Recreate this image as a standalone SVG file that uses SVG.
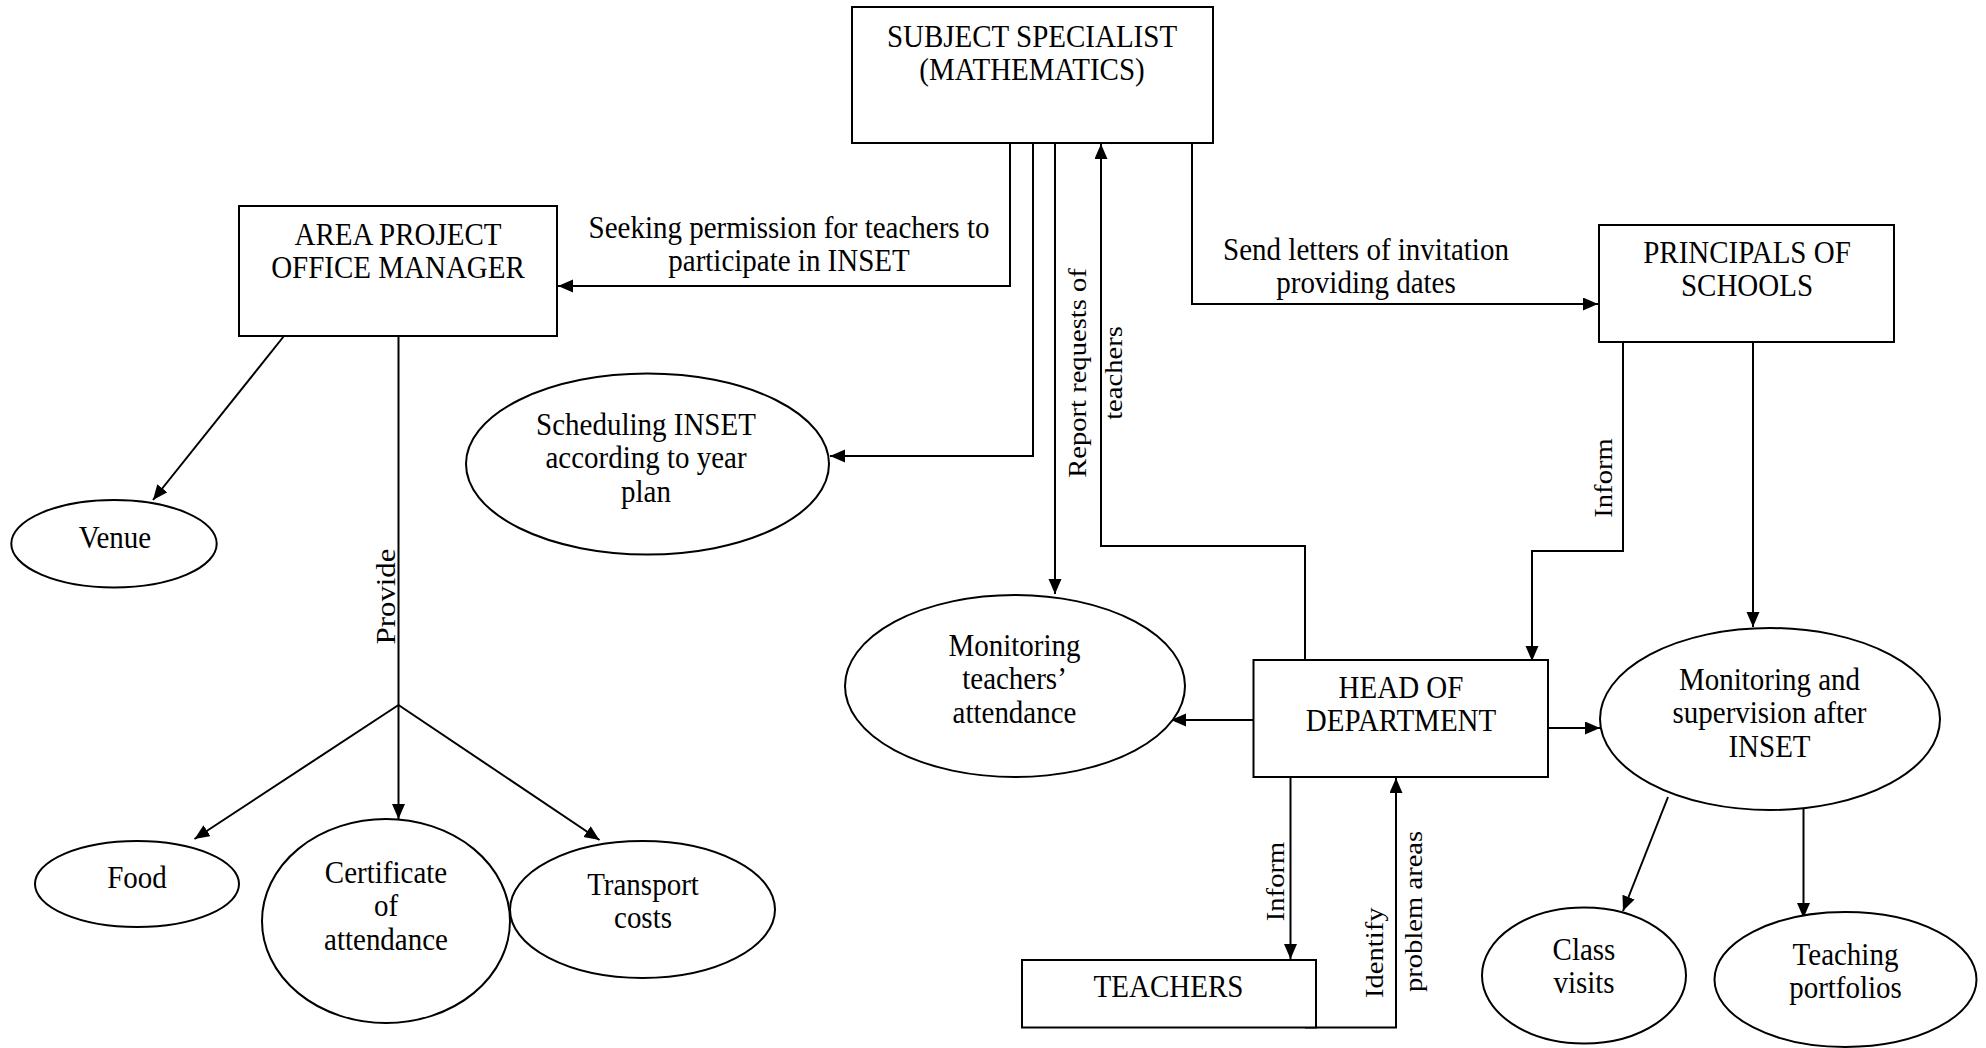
<svg xmlns="http://www.w3.org/2000/svg" width="1986" height="1048" viewBox="0 0 1986 1048">
<defs>
<style>
.box{fill:#fff;stroke:#000;stroke-width:2}
.ell{fill:#fff;stroke:#000;stroke-width:2}
.con{fill:none;stroke:#000;stroke-width:2}
.t{font-family:"Liberation Serif","Times New Roman",serif;font-size:29px;fill:#000;text-anchor:middle}
.r{font-family:"Liberation Serif","Times New Roman",serif;font-size:26px;fill:#000;text-anchor:middle}
.rs{font-family:"Liberation Serif","Times New Roman",serif;font-size:26px;fill:#000;text-anchor:start}
</style>
<marker id="arr" markerUnits="userSpaceOnUse" markerWidth="16" markerHeight="14" refX="15" refY="6.5" orient="auto">
<path d="M0,0 L15,6.5 L0,13 z" fill="#000"/>
</marker>
</defs>
<rect width="1986" height="1048" fill="#fff"/>

<g id="connectors">
<path class="con" d="M1010,143 V286 H558" marker-end="url(#arr)"/>
<path class="con" d="M1033,143 V456 H830" marker-end="url(#arr)"/>
<path class="con" d="M1055,143 V594" marker-end="url(#arr)"/>
<path class="con" d="M1305,660 V546 H1101 V144" marker-end="url(#arr)"/>
<path class="con" d="M1192,143 V304 H1598" marker-end="url(#arr)"/>
<path class="con" d="M1623,342 V551 H1532 V661" marker-end="url(#arr)"/>
<path class="con" d="M1753,334 V627" marker-end="url(#arr)"/>
<path class="con" d="M1253,720 H1171" marker-end="url(#arr)"/>
<path class="con" d="M1548,728 H1600" marker-end="url(#arr)"/>
<path class="con" d="M1290.5,777 V959" marker-end="url(#arr)"/>
<path class="con" d="M1305,1027.5 H1396 V778" marker-end="url(#arr)"/>
<path class="con" d="M1668,797 L1623,911" marker-end="url(#arr)"/>
<path class="con" d="M1803.5,805 V918" marker-end="url(#arr)"/>
<path class="con" d="M284,336 L153,500" marker-end="url(#arr)"/>
<path class="con" d="M398.5,336 V705"/>
<path class="con" d="M398.5,705 L194.5,839" marker-end="url(#arr)"/>
<path class="con" d="M398.5,705 V819" marker-end="url(#arr)"/>
<path class="con" d="M398.5,705 L599.5,840" marker-end="url(#arr)"/>
<text class="t" transform="translate(789,238) scale(1,1.1)"><tspan x="0" y="0">Seeking permission for teachers to</tspan><tspan x="0" dy="30.3">participate in INSET</tspan></text>
<text class="t" transform="translate(1366,260) scale(1,1.1)"><tspan x="0" y="0">Send letters of invitation</tspan><tspan x="0" dy="30.3">providing dates</tspan></text>
<text class="r" transform="translate(1085.5,373) scale(1,1.1) rotate(-90)">Report requests of</text>
<text class="r" transform="translate(1122,373) scale(1,1.1) rotate(-90)">teachers</text>
<text class="r" style="font-size:28px" transform="translate(395,596.5) scale(1,1.1) rotate(-90)">Provide</text>
<text class="r" transform="translate(1612,478) scale(1,1.1) rotate(-90)">Inform</text>
<text class="r" transform="translate(1284,881.5) scale(1,1.1) rotate(-90)">Inform</text>
<text class="rs" transform="translate(1383,998) scale(1,1.1) rotate(-90)">Identify</text>
<text class="rs" transform="translate(1422,992) scale(1,1.1) rotate(-90)">problem areas</text>
</g>

<g id="subject-specialist">
<rect class="box" x="852" y="7" width="361" height="136"/>
<text class="t" transform="translate(1032,46.7) scale(1,1.1)"><tspan x="0" y="0">SUBJECT SPECIALIST</tspan><tspan x="0" dy="30.3">(MATHEMATICS)</tspan></text>
</g>

<g id="area-project-office-manager">
<rect class="box" x="239" y="206" width="318" height="130"/>
<text class="t" transform="translate(398,244.6) scale(1,1.1)"><tspan x="0" y="0">AREA PROJECT</tspan><tspan x="0" dy="30.3">OFFICE MANAGER</tspan></text>
</g>

<g id="principals-of-schools">
<rect class="box" x="1599" y="225" width="295" height="117"/>
<text class="t" transform="translate(1747,262.5) scale(1,1.1)"><tspan x="0" y="0">PRINCIPALS OF</tspan><tspan x="0" dy="30.3">SCHOOLS</tspan></text>
</g>

<g id="head-of-department">
<rect class="box" x="1253.5" y="660" width="294.5" height="117"/>
<text class="t" transform="translate(1401,697.5) scale(1,1.1)"><tspan x="0" y="0">HEAD OF</tspan><tspan x="0" dy="30.3">DEPARTMENT</tspan></text>
</g>

<g id="teachers">
<rect class="box" x="1022" y="960" width="294" height="67.5"/>
<text class="t" transform="translate(1168.5,996.5) scale(1,1.1)">TEACHERS</text>
</g>

<g id="scheduling-inset">
<ellipse class="ell" cx="647.5" cy="464" rx="181.5" ry="90.5"/>
<text class="t" transform="translate(646,435) scale(1,1.1)"><tspan x="0" y="0">Scheduling INSET</tspan><tspan x="0" dy="30.3">according to year</tspan><tspan x="0" dy="30.3">plan</tspan></text>
</g>

<g id="monitoring-attendance">
<ellipse class="ell" cx="1015" cy="686" rx="170" ry="91"/>
<text class="t" transform="translate(1014.5,656) scale(1,1.1)"><tspan x="0" y="0">Monitoring</tspan><tspan x="0" dy="30.3">teachers’</tspan><tspan x="0" dy="30.3">attendance</tspan></text>
</g>

<g id="monitoring-supervision">
<ellipse class="ell" cx="1770" cy="719" rx="170" ry="91"/>
<text class="t" transform="translate(1769.5,690) scale(1,1.1)"><tspan x="0" y="0">Monitoring and</tspan><tspan x="0" dy="30.3">supervision after</tspan><tspan x="0" dy="30.3">INSET</tspan></text>
</g>

<g id="class-visits">
<ellipse class="ell" cx="1584" cy="975.5" rx="102" ry="68"/>
<text class="t" transform="translate(1584,960) scale(1,1.1)"><tspan x="0" y="0">Class</tspan><tspan x="0" dy="30.3">visits</tspan></text>
</g>

<g id="teaching-portfolios">
<ellipse class="ell" cx="1845.5" cy="979.5" rx="131" ry="67.5"/>
<text class="t" transform="translate(1845.5,965) scale(1,1.1)"><tspan x="0" y="0">Teaching</tspan><tspan x="0" dy="30.3">portfolios</tspan></text>
</g>

<g id="venue">
<ellipse class="ell" cx="114" cy="543.7" rx="102.7" ry="43.7"/>
<text class="t" transform="translate(115,548) scale(1,1.1)">Venue</text>
</g>

<g id="food">
<ellipse class="ell" cx="137" cy="884" rx="102" ry="43"/>
<text class="t" transform="translate(137,888) scale(1,1.1)">Food</text>
</g>

<g id="certificate">
<ellipse class="ell" cx="386" cy="921" rx="124" ry="102"/>
<text class="t" transform="translate(386,883) scale(1,1.1)"><tspan x="0" y="0">Certificate</tspan><tspan x="0" dy="30.3">of</tspan><tspan x="0" dy="30.3">attendance</tspan></text>
</g>

<g id="transport">
<ellipse class="ell" cx="642.5" cy="909.5" rx="132.5" ry="68.5"/>
<text class="t" transform="translate(643,895) scale(1,1.1)"><tspan x="0" y="0">Transport</tspan><tspan x="0" dy="30.3">costs</tspan></text>
</g>
</svg>
